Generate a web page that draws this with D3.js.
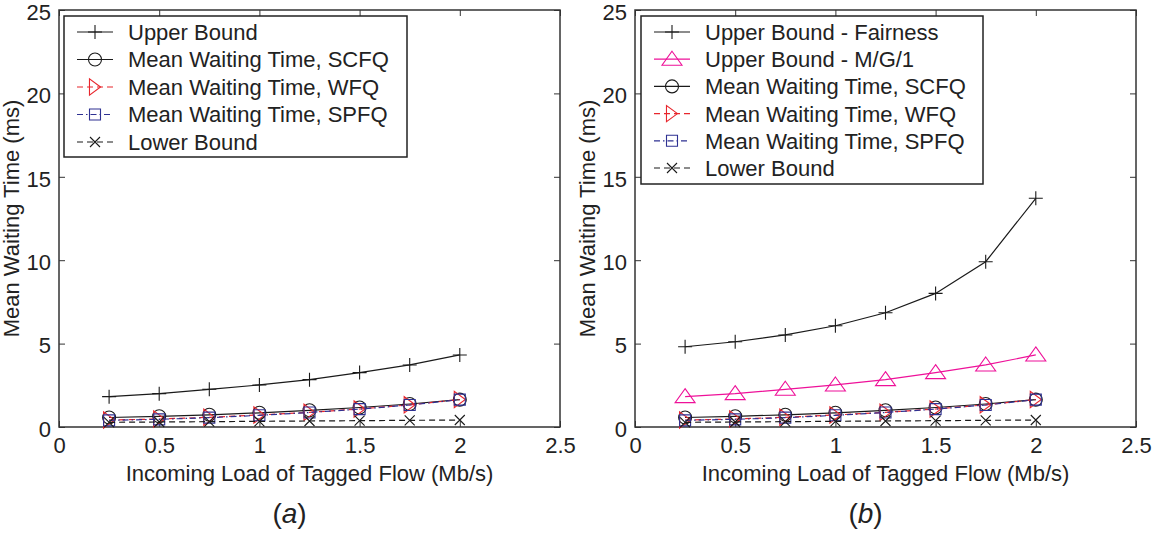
<!DOCTYPE html>
<html>
<head>
<meta charset="utf-8">
<script src="https://cdn.jsdelivr.net/npm/d3@7"></script>
<style>
  html, body { margin: 0; padding: 0; background: #fff; }
  svg { display: block; }
  text { font-family: "Liberation Sans", Arial, Helvetica, sans-serif; fill: #222; }
</style>
</head>
<body>
<svg id="chart" width="1164" height="534"></svg>
<script>
// Offered load of the tagged flow (Mb/s)
const loads = [0.25, 0.5, 0.75, 1.0, 1.25, 1.5, 1.75, 2.0];

// Mean waiting time (ms)
const upperBound    = [1.82, 2.00, 2.26, 2.52, 2.84, 3.26, 3.72, 4.32];
const fairnessBound = [4.81, 5.11, 5.52, 6.07, 6.85, 8.01, 9.91, 13.71];
const mg1Bound      = [1.82, 2.00, 2.26, 2.52, 2.84, 3.26, 3.72, 4.32];
const scfq          = [0.57, 0.64, 0.73, 0.85, 1.00, 1.17, 1.38, 1.64];
const wfq           = [0.42, 0.48, 0.58, 0.72, 0.88, 1.08, 1.33, 1.65];
const spfq          = [0.40, 0.46, 0.56, 0.70, 0.87, 1.07, 1.32, 1.64];
const lowerBound    = [0.28, 0.30, 0.32, 0.34, 0.36, 0.38, 0.40, 0.42];

const xTicks = [0, 0.5, 1, 1.5, 2, 2.5];
const yTicks = [0, 5, 10, 15, 20, 25];
const xLabel = "Incoming Load of Tagged Flow (Mb/s)";
const yLabel = "Mean Waiting Time (ms)";

const svg = d3.select("#chart");

// Marker outlines, centred on (0,0)
const markerPath = {
  plus: s => `M${-s},0H${s}M0,${-s}V${s}`,
  cross: s => `M${-s},${-s}L${s},${s}M${-s},${s}L${s},${-s}`,
  circle: s => `M${-s},0A${s},${s} 0 1,0 ${s},0A${s},${s} 0 1,0 ${-s},0Z`,
  triUp: s => `M0,${-s}L${s * 1.25},${s * 0.75}L${-s * 1.25},${s * 0.75}Z`,
  triRight: s => `M${s * 0.85},0L${-s * 0.85},${-s * 1.25}L${-s * 0.85},${s * 1.25}Z`,
  square: s => `M${-s},${-s}H${s}V${s}H${-s}Z`
};

const styles = {
  upper:    { color: "#1a1a1a", dash: null,        marker: "plus",     size: 7 },
  fairness: { color: "#1a1a1a", dash: null,        marker: "plus",     size: 7 },
  mg1:      { color: "#ee1199", dash: null,        marker: "triUp",    size: 8 },
  scfq:     { color: "#1a1a1a", dash: null,        marker: "circle",   size: 6.5 },
  wfq:      { color: "#e8262d", dash: "6,4",       marker: "triRight", size: 6.5 },
  spfq:     { color: "#2e3192", dash: "6,3,1.5,3", marker: "square",   size: 5.5 },
  lower:    { color: "#1a1a1a", dash: "6,4",       marker: "cross",    size: 5 }
};

function drawPanel(cfg) {
  const g = svg.append("g");
  const x = d3.scaleLinear().domain([0, 2.5]).range([cfg.left, cfg.right]);
  const y = d3.scaleLinear().domain([0, 25]).range([cfg.bottom, cfg.top]);
  const tickLen = 6;

  // axes: inward ticks on all four sides
  const axB = d3.axisBottom(x).tickValues(xTicks).tickSize(-tickLen).tickPadding(10).tickFormat(d3.format("~g"));
  const axT = d3.axisTop(x).tickValues(xTicks).tickSize(-tickLen).tickFormat("");
  const axL = d3.axisLeft(y).tickValues(yTicks).tickSize(-tickLen).tickPadding(8).tickFormat(d3.format("~g"));
  const axR = d3.axisRight(y).tickValues(yTicks).tickSize(-tickLen).tickFormat("");

  [[axB, `translate(0,${cfg.bottom})`, "b"], [axT, `translate(0,${cfg.top})`, "t"],
   [axL, `translate(${cfg.left},0)`, "l"], [axR, `translate(${cfg.right},0)`, "r"]].forEach(([ax, tr, side]) => {
    const a = g.append("g").attr("transform", tr).call(ax);
    a.select(".domain").remove();
    a.selectAll(".tick line").attr("stroke", "#333").attr("stroke-width", 1);
    a.selectAll(".tick text").attr("font-size", 22).attr("fill", "#222")
      .attr("font-family", "Liberation Sans, Arial, sans-serif");
    if (side === "l") a.selectAll(".tick text").attr("dy", "0.42em");
  });

  g.append("rect")
    .attr("x", cfg.left).attr("y", cfg.top)
    .attr("width", cfg.right - cfg.left).attr("height", cfg.bottom - cfg.top)
    .attr("fill", "none").attr("stroke", "#333").attr("stroke-width", 1.5);

  // series lines and markers
  const line = d3.line().x(d => x(d[0])).y(d => y(d[1]));
  cfg.series.forEach(s => {
    const st = styles[s.key];
    const pts = loads.map((l, i) => [l, s.values[i]]);
    g.append("path").datum(pts)
      .attr("d", line).attr("fill", "none")
      .attr("stroke", st.color).attr("stroke-width", 1.2)
      .attr("stroke-dasharray", st.dash);
    g.selectAll(null).data(pts).enter().append("path")
      .attr("transform", d => `translate(${x(d[0])},${y(d[1])})`)
      .attr("d", markerPath[st.marker](st.size))
      .attr("fill", "none").attr("stroke", st.color).attr("stroke-width", 1.1);
  });

  // axis titles
  g.append("text")
    .attr("x", (cfg.left + cfg.right) / 2).attr("y", cfg.bottom + 54)
    .attr("text-anchor", "middle").attr("font-size", 22).text(xLabel);
  g.append("text")
    .attr("transform", `translate(${cfg.left - 40},${(cfg.top + cfg.bottom) / 2}) rotate(-90)`)
    .attr("text-anchor", "middle").attr("font-size", 22).text(yLabel);

  // panel caption
  const cap = g.append("text")
    .attr("x", (cfg.left + cfg.right) / 2 - 20).attr("y", cfg.bottom + 96)
    .attr("text-anchor", "middle").attr("font-size", 28)
    .attr("font-family", "Liberation Serif, DejaVu Serif, serif");
  cap.append("tspan").text("(");
  cap.append("tspan").attr("font-style", "italic").text(cfg.caption);
  cap.append("tspan").text(")");

  // legend
  const L = cfg.legend;
  const lg = g.append("g").attr("transform", `translate(${L.x},${L.y})`);
  lg.append("rect").attr("width", L.w).attr("height", L.h)
    .attr("fill", "#fff").attr("stroke", "#222").attr("stroke-width", 1.5);
  cfg.series.forEach((s, i) => {
    const st = styles[s.key];
    const cy = L.first + i * L.step;
    lg.append("line").attr("x1", 13).attr("x2", 49).attr("y1", cy).attr("y2", cy)
      .attr("stroke", st.color).attr("stroke-width", 1.2).attr("stroke-dasharray", st.dash);
    lg.append("path").attr("transform", `translate(31,${cy})`)
      .attr("d", markerPath[st.marker](st.size))
      .attr("fill", "none").attr("stroke", st.color).attr("stroke-width", 1.1);
    lg.append("text").attr("x", 64).attr("y", cy).attr("dy", "0.36em")
      .attr("font-size", 22).text(s.label);
  });
}

drawPanel({
  left: 59, right: 560, top: 10, bottom: 427, caption: "a",
  legend: { x: 64, y: 16, w: 343, h: 141, first: 16, step: 27.5 },
  series: [
    { key: "upper", values: upperBound, label: "Upper Bound" },
    { key: "scfq", values: scfq, label: "Mean Waiting Time, SCFQ" },
    { key: "wfq", values: wfq, label: "Mean Waiting Time, WFQ" },
    { key: "spfq", values: spfq, label: "Mean Waiting Time, SPFQ" },
    { key: "lower", values: lowerBound, label: "Lower Bound" }
  ]
});

drawPanel({
  left: 635, right: 1136, top: 10, bottom: 427, caption: "b",
  legend: { x: 641, y: 16, w: 342, h: 168, first: 16, step: 27.2 },
  series: [
    { key: "fairness", values: fairnessBound, label: "Upper Bound - Fairness" },
    { key: "mg1", values: mg1Bound, label: "Upper Bound - M/G/1" },
    { key: "scfq", values: scfq, label: "Mean Waiting Time, SCFQ" },
    { key: "wfq", values: wfq, label: "Mean Waiting Time, WFQ" },
    { key: "spfq", values: spfq, label: "Mean Waiting Time, SPFQ" },
    { key: "lower", values: lowerBound, label: "Lower Bound" }
  ]
});
</script>
</body>
</html>
